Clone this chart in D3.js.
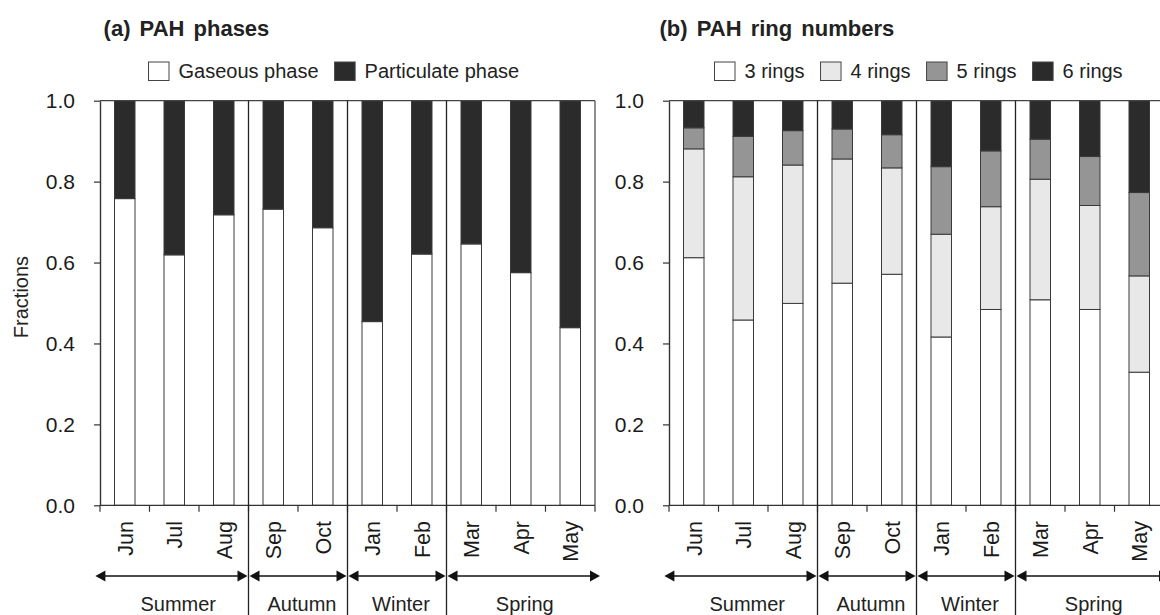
<!DOCTYPE html>
<html>
<head>
<meta charset="utf-8">
<script src="https://cdn.jsdelivr.net/npm/d3@7"></script>
<style>
  html, body { margin: 0; padding: 0; background: #fff; }
  svg { display: block; font-family: "Liberation Sans", Arial, Helvetica, sans-serif; }
</style>
</head>
<body>
<svg id="chart" width="1160" height="615"></svg>
<script>
// ---- data ----
const months = ["Jun", "Jul", "Aug", "Sep", "Oct", "Jan", "Feb", "Mar", "Apr", "May"];
const seasons = ["Summer", "Autumn", "Winter", "Spring"];
const seasonLengths = [3, 2, 2, 3];
const yTicks = [0, 0.2, 0.4, 0.6, 0.8, 1.0];

const phaseKeys = ["Gaseous phase", "Particulate phase"];
const gaseous     = [0.758, 0.619, 0.718, 0.732, 0.686, 0.454, 0.621, 0.646, 0.575, 0.439];
const particulate = [0.242, 0.381, 0.282, 0.268, 0.314, 0.546, 0.379, 0.354, 0.425, 0.561];

const ringKeys = ["3 rings", "4 rings", "5 rings", "6 rings"];
const rings3 = [0.612, 0.458, 0.499, 0.549, 0.571, 0.416, 0.484, 0.508, 0.484, 0.329];
const rings4 = [0.269, 0.354, 0.342, 0.307, 0.263, 0.254, 0.254, 0.298, 0.257, 0.238];
const rings5 = [0.052, 0.100, 0.085, 0.074, 0.082, 0.167, 0.138, 0.099, 0.121, 0.206];
const rings6 = [0.067, 0.088, 0.074, 0.070, 0.084, 0.163, 0.124, 0.095, 0.138, 0.227];

// ---- styling ----
const DARK = "#2b2b2b";
const phaseColors = [ "#ffffff", DARK ];
const ringColors  = [ "#ffffff", "#e8e8e8", "#959595", DARK ];
const INK = "#1a1a1a";

const svg = d3.select("#chart");
const yTop = 100.7, yBottom = 505.3;
const y = d3.scaleLinear().domain([0, 1]).range([yBottom, yTop]);

function drawPanel(cfg) {
  const g = svg.append("g");
  const rows = months.map((m, i) => {
    const r = { month: m };
    cfg.keys.forEach((k, j) => r[k] = cfg.series[j][i]);
    return r;
  });
  const stacked = d3.stack().keys(cfg.keys)(rows);

  const x = d3.scaleBand().domain(months).range([cfg.x0, cfg.x1])
    .paddingInner(0.586).paddingOuter(0.293);
  const xb = d3.scaleBand().domain(months).range([cfg.x0, cfg.x1]).padding(0);
  const boundary = i => cfg.x0 + i * xb.step();

  // title
  g.append("text")
    .attr("x", cfg.titleX).attr("y", 35.5)
    .attr("font-size", 22).attr("font-weight", "bold")
    .attr("word-spacing", 3)
    .attr("fill", "#222")
    .text(cfg.title);

  // legend
  let lx = cfg.legendX;
  cfg.keys.forEach((k, j) => {
    g.append("rect")
      .attr("x", lx + 0.5).attr("y", 62).attr("width", 20.5).attr("height", 18.5)
      .attr("fill", cfg.colors[j]).attr("stroke", "#444").attr("stroke-width", 1);
    const t = g.append("text")
      .attr("x", lx + 30.5).attr("y", 77.5)
      .attr("font-size", 20).attr("fill", "#222")
      .text(k);
    lx = lx + 30.5 + t.node().getComputedTextLength() + 15.5;
  });

  // bars
  const layers = g.append("g").selectAll("g").data(stacked).join("g")
    .attr("fill", (d, j) => cfg.colors[j]);
  layers.selectAll("rect").data(d => d).join("rect")
    .attr("x", d => x(d.data.month))
    .attr("width", x.bandwidth())
    .attr("y", d => y(d[1]))
    .attr("height", d => y(d[0]) - y(d[1]))
    .attr("stroke", "#3a3a3a").attr("stroke-width", 1);

  // frame: top and right edges
  g.append("line").attr("x1", cfg.x0).attr("x2", cfg.x1).attr("y1", yTop).attr("y2", yTop)
    .attr("stroke", "#444").attr("stroke-width", 1.2);
  g.append("line").attr("x1", cfg.x1).attr("x2", cfg.x1).attr("y1", yTop).attr("y2", yBottom)
    .attr("stroke", "#444").attr("stroke-width", 1.2);

  // y axis
  const ya = g.append("g").attr("transform", `translate(${cfg.x0},0)`)
    .call(d3.axisLeft(y).tickValues(yTicks).tickFormat(d3.format(".1f"))
      .tickSizeInner(6).tickSizeOuter(0).tickPadding(19));
  ya.select(".domain").attr("stroke", "#333").attr("stroke-width", 1.4);
  ya.selectAll(".tick line").attr("stroke", "#333").attr("stroke-width", 1.2);
  ya.selectAll(".tick text").attr("font-size", 21).attr("fill", INK)
    .attr("font-family", "Liberation Sans, Arial, sans-serif");

  // x axis baseline + boundary ticks
  g.append("line").attr("x1", cfg.x0).attr("x2", cfg.x1).attr("y1", yBottom).attr("y2", yBottom)
    .attr("stroke", "#333").attr("stroke-width", 1.3);
  g.selectAll(".xtick").data(d3.range(months.length + 1)).join("line")
    .attr("x1", i => boundary(i)).attr("x2", i => boundary(i))
    .attr("y1", yBottom).attr("y2", yBottom + 6.5)
    .attr("stroke", "#333").attr("stroke-width", 1.2);

  // month labels
  g.selectAll(".mlab").data(months).join("text")
    .attr("transform", d => `translate(${x(d) + x.bandwidth() / 2},521) rotate(-90)`)
    .attr("text-anchor", "end").attr("dy", "0.36em")
    .attr("font-size", 21.5).attr("fill", INK)
    .text(d => d);

  // season dividers, arrows and names
  const cum = d3.cumsum(seasonLengths);
  const starts = [0, ...cum.slice(0, -1)];
  cum.slice(0, -1).forEach(c => {
    g.append("line").attr("x1", boundary(c)).attr("x2", boundary(c))
      .attr("y1", yTop).attr("y2", 615)
      .attr("stroke", "#222").attr("stroke-width", 1.3);
  });
  const ay = 576;
  seasons.forEach((s, k) => {
    const a = starts[k] === 0 ? cfg.x0 - 4.6 : boundary(starts[k]) + 1;
    const b = cum[k] === months.length ? cfg.x1 + 5 : boundary(cum[k]) - 1;
    g.append("line").attr("x1", a + 5).attr("x2", b - 5).attr("y1", ay).attr("y2", ay)
      .attr("stroke", "#111").attr("stroke-width", 1.6);
    g.append("path")
      .attr("d", `M${a},${ay} L${a + 10},${ay - 5.5} L${a + 10},${ay + 5.5} Z`)
      .attr("fill", "#111");
    g.append("path")
      .attr("d", `M${b},${ay} L${b - 10},${ay - 5.5} L${b - 10},${ay + 5.5} Z`)
      .attr("fill", "#111");
    const mid = (boundary(starts[k]) + boundary(cum[k])) / 2 + 4;
    g.append("text").attr("x", mid).attr("y", 610.5)
      .attr("text-anchor", "middle").attr("font-size", 20).attr("fill", "#222")
      .text(s);
  });
}

drawPanel({
  x0: 100, x1: 595, titleX: 103.6, title: "(a) PAH phases",
  legendX: 148, keys: phaseKeys, series: [gaseous, particulate], colors: phaseColors
});
drawPanel({
  x0: 669, x1: 1164, titleX: 659.5, title: "(b) PAH ring numbers",
  legendX: 714, keys: ringKeys, series: [rings3, rings4, rings5, rings6], colors: ringColors
});

// shared y-axis title
svg.append("text")
  .attr("transform", "translate(21,297) rotate(-90)")
  .attr("text-anchor", "middle").attr("dy", "0.36em")
  .attr("font-size", 20).attr("fill", "#222")
  .text("Fractions");
</script>
</body>
</html>
